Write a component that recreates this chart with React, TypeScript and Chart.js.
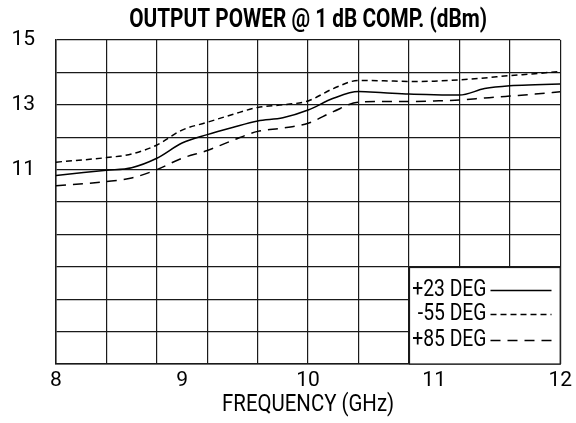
import { useEffect, useRef } from 'react';
import { Chart, registerables } from 'chart.js';

Chart.register(...registerables);

const frequencies = [8.0, 8.4, 8.6, 8.8, 9.0, 9.2, 9.4, 9.6, 9.8, 10.0, 10.2, 10.4, 10.6, 10.8, 11.0, 11.2, 11.4, 11.6, 11.8, 12.0];
const plus23 = [10.82, 10.98, 11.06, 11.35, 11.82, 12.08, 12.3, 12.5, 12.6, 12.84, 13.2, 13.41, 13.37, 13.33, 13.31, 13.3, 13.5, 13.59, 13.62, 13.64];
const minus55 = [11.23, 11.37, 11.48, 11.76, 12.22, 12.46, 12.7, 12.92, 13.0, 13.12, 13.5, 13.75, 13.74, 13.72, 13.73, 13.77, 13.83, 13.9, 13.96, 14.03];
const plus85 = [10.5, 10.63, 10.74, 11.0, 11.35, 11.59, 11.9, 12.18, 12.28, 12.43, 12.79, 13.08, 13.1, 13.1, 13.12, 13.15, 13.21, 13.27, 13.33, 13.4];
const seriesLabels = ['+23 DEG', '-55 DEG', '+85 DEG'];
const xTickLabels = [8, 9, 10, 11, 12];
const yTickLabels = [11, 13, 15];
const chartTitle = 'OUTPUT POWER @ 1 dB COMP. (dBm)';
const xTitle = 'FREQUENCY (GHz)';

const FONT = "Roboto, 'Liberation Sans', sans-serif";
const INK = '#1a1a1a';

function drawCondensed(ctx: any, text: string, x: number, y: number, font: string, squeeze: number, align: 'left' | 'center' | 'right') {
  ctx.save();
  ctx.font = font;
  ctx.fillStyle = '#000';
  ctx.textBaseline = 'middle';
  ctx.textAlign = align;
  ctx.translate(x, y);
  ctx.scale(squeeze, 1);
  ctx.fillText(text, 0, 0);
  ctx.restore();
}

const textPlugin = {
  id: 'plotTexts',
  afterDraw(chart: any) {
    const { ctx, chartArea } = chart;
    const cx = (chartArea.left + chartArea.right) / 2;
    drawCondensed(ctx, chartTitle, cx, 20, `bold 26px ${FONT}`, 0.8, 'center');
    drawCondensed(ctx, xTitle, cx, 405, `24px ${FONT}`, 0.85, 'center');
  },
};

const legendPlugin = {
  id: 'boxLegend',
  afterDatasetsDraw(chart: any) {
    const { ctx, chartArea } = chart;
    const xs = chart.scales.x;
    const ys = chart.scales.y;
    const left = Math.round(xs.getPixelForValue(10.8)) + 0.5;
    const top = Math.round(ys.getPixelForValue(8)) + 0.5;
    const right = chartArea.right;
    const bottom = chartArea.bottom;
    ctx.save();
    ctx.fillStyle = '#fff';
    ctx.fillRect(left, top, right - left, bottom - top);
    ctx.strokeStyle = INK;
    ctx.lineWidth = 1.2;
    ctx.strokeRect(left, top, right - left, bottom - top);
    ctx.restore();
    const rows = [23, 47, 73];
    chart.data.datasets.forEach((ds: any, i: number) => {
      const y = top + rows[i];
      drawCondensed(ctx, ds.label, left + 77, y, `23px ${FONT}`, 0.84, 'right');
      ctx.save();
      ctx.beginPath();
      ctx.setLineDash(ds.borderDash || []);
      ctx.lineWidth = 1.4;
      ctx.strokeStyle = '#000';
      ctx.moveTo(left + 81, y);
      ctx.lineTo(left + 142, y);
      ctx.stroke();
      ctx.restore();
    });
  },
};

export default function App() {
  const ref = useRef<HTMLCanvasElement | null>(null);
  useEffect(() => {
    if (!ref.current) return;
    const mk = (vals: number[]) => frequencies.map((f, i) => ({ x: f, y: vals[i] }));
    const common = {
      borderColor: '#000',
      borderWidth: 1.5,
      pointRadius: 0,
      fill: false,
      cubicInterpolationMode: 'monotone' as const,
      xAxisID: 'x',
      yAxisID: 'y',
    };
    const chart = new Chart(ref.current, {
      type: 'line',
      data: {
        datasets: [
          { ...common, label: seriesLabels[0], data: mk(plus23), borderDash: [] },
          { ...common, label: seriesLabels[1], data: mk(minus55), borderDash: [6, 4] },
          { ...common, label: seriesLabels[2], data: mk(plus85), borderDash: [10, 7] },
        ],
      },
      options: {
        animation: false,
        responsive: false,
        devicePixelRatio: 1,
        layout: { padding: { top: 40, left: 0, right: 15, bottom: 0 } },
        plugins: {
          legend: { display: false },
          tooltip: { enabled: false },
          title: { display: false },
        },
        scales: {
          x: {
            type: 'linear',
            position: 'bottom',
            min: 8,
            max: 12,
            afterBuildTicks: (s: any) => {
              s.ticks = xTickLabels.map((v) => ({ value: v }));
            },
            afterFit: (s: any) => {
              s.height = 59;
            },
            grid: { display: false, drawTicks: false },
            border: { display: true, color: INK, width: 1.5 },
            ticks: {
              color: '#000',
              font: { family: FONT, size: 21 },
              padding: 4,
              maxRotation: 0,
              autoSkip: false,
              callback: (v: any) => String(v),
            },
          },
          xg: {
            type: 'linear',
            position: 'top',
            min: 8,
            max: 12,
            afterFit: (s: any) => {
              s.height = 0;
            },
            ticks: { display: false, stepSize: 0.4 },
            grid: { color: INK, lineWidth: 1.2, drawTicks: false },
            border: { display: false },
          },
          y: {
            type: 'linear',
            min: 5,
            max: 15,
            afterFit: (s: any) => {
              s.width = 56;
            },
            grid: { color: INK, lineWidth: 1.2, drawTicks: false },
            border: { display: true, color: INK, width: 1.5 },
            ticks: {
              stepSize: 1,
              autoSkip: false,
              color: '#000',
              padding: 21,
              font: { family: FONT, size: 21 },
              callback: (v: any) => (yTickLabels.includes(Number(v)) ? String(v) : ''),
            },
          },
        },
      },
      plugins: [textPlugin, legendPlugin],
    } as any);
    return () => chart.destroy();
  }, []);
  return (
    <div style={{ position: 'absolute', left: 0, top: 0, width: 576, height: 423, background: '#fff' }}>
      <canvas ref={ref} width={576} height={423} style={{ width: 576, height: 423, display: 'block' }} />
    </div>
  );
}
